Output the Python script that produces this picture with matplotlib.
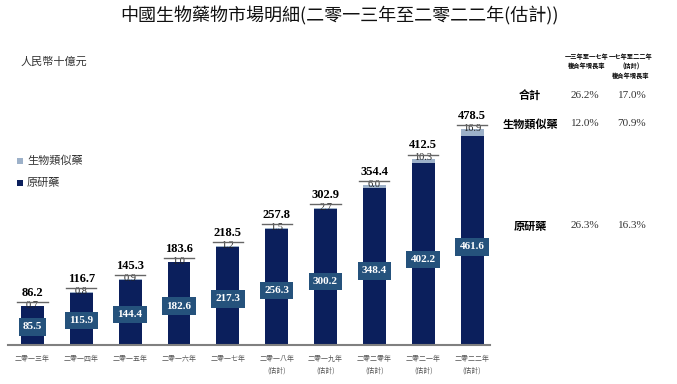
import matplotlib
matplotlib.use("Agg")
import matplotlib.pyplot as plt
from matplotlib.transforms import offset_copy
from matplotlib.patches import Rectangle

CJK = ['Noto Sans CJK TC', 'DejaVu Sans']
SERIF = ['Liberation Serif', 'DejaVu Serif']
plt.rcParams['font.family'] = CJK

# ---- data ----
years = ['二零一三年', '二零一四年', '二零一五年', '二零一六年', '二零一七年',
         '二零一八年\n(估計)', '二零一九年\n(估計)', '二零二零年\n(估計)',
         '二零二一年\n(估計)', '二零二二年\n(估計)']
originator = [85.5, 115.9, 144.4, 182.6, 217.3, 256.3, 300.2, 348.4, 402.2, 461.6]
biosimilar = [0.7, 0.8, 0.9, 1.0, 1.2, 1.5, 2.7, 6.0, 10.3, 16.9]
totals = [86.2, 116.7, 145.3, 183.6, 218.5, 257.8, 302.9, 354.4, 412.5, 478.5]

series_names = ['生物類似藥', '原研藥']
row_names = ['合計', '生物類似藥', '原研藥']
cagr_13_17 = ['26.2%', '12.0%', '26.3%']
cagr_17_22 = ['17.0%', '70.9%', '16.3%']
col_headers = ['一三年至一七年\n複合年增長率', '一七年至二二年\n(估計)\n複合年增長率']

title = '中國生物藥物市場明細(二零一三年至二零二二年(估計))'
unit = '人民幣十億元'

DARK = '#0b1f5c'
LIGHT = '#9db1c9'
BOX = '#25527c'

W, H = 677, 384
fig = plt.figure(figsize=(W / 100, H / 100), dpi=100)

ax_l, ax_r = 8, 490
base_px, top_px = 345, 100
ax = fig.add_axes([ax_l / W, (H - base_px) / H, (ax_r - ax_l) / W, (base_px - top_px) / H])
ax.set_xlim(-0.501, 9.368)
ax.set_ylim(0, (base_px - top_px) / 0.452)

x = list(range(len(years)))
bw = 0.47
ax.bar(x, originator, width=bw, color=DARK, zorder=2)
ax.bar(x, biosimilar, width=bw, bottom=originator, color=LIGHT, zorder=2)

for s in ['top', 'right', 'left']:
    ax.spines[s].set_visible(False)
ax.spines['bottom'].set_color('#808080')
ax.spines['bottom'].set_linewidth(1.5)
ax.set_yticks([])
ax.set_xticks(x)
ax.set_xticklabels(years, fontsize=5, color='#555555', linespacing=1.6, family=CJK)
ax.tick_params(axis='x', length=0, pad=7)

for i in x:
    t = totals[i]
    # small biosimilar label at bar top
    ax.annotate(f'{biosimilar[i]:.1f}', (i, t), xytext=(0, 0.5), textcoords='offset points',
                ha='center', va='center', fontsize=7.5, family=SERIF, color='#222222', zorder=4)
    # underline
    tr = offset_copy(ax.transData, fig=fig, x=0, y=4, units='dots')
    ax.plot([i - 0.31, i + 0.31], [t, t], transform=tr, color='#666666', lw=1.0,
            clip_on=False, zorder=4)
    # total label
    ax.annotate(f'{t:.1f}', (i, t), xytext=(0, 9.5), textcoords='offset points',
                ha='center', va='center', fontsize=9, fontweight='bold', family=SERIF,
                color='black', zorder=4)
    # originator label box
    ax.text(i, originator[i] * 0.47, f'{originator[i]:.1f}', ha='center', va='center',
            fontsize=8, fontweight='bold', family=SERIF, color='white', zorder=5,
            bbox=dict(boxstyle='square,pad=0.38', facecolor=BOX, edgecolor='none'))

# title & unit
fig.text(339 / W, 1 - 16 / H, title, ha='center', va='center', fontsize=13,
         fontweight='medium', color='#111111', family=CJK)
fig.text(21 / W, 1 - 62 / H, unit, ha='left', va='center', fontsize=8,
         color='#333333', family=CJK)

# legend
leg_y = [161, 183]
leg_c = [LIGHT, DARK]
for yy, c, name in zip(leg_y, leg_c, series_names):
    fig.patches.append(Rectangle((17 / W, 1 - (yy + 3) / H), 6 / W, 6 / H,
                                 transform=fig.transFigure, facecolor=c, edgecolor='none'))
    fig.text(27 / W, 1 - yy / H, name, ha='left', va='center', fontsize=8,
             color='#333333', family=CJK)

# CAGR table
col_x = [587, 631]
fig.text(col_x[0] / W, 1 - 53 / H, col_headers[0], ha='center', va='top', fontsize=4.5,
         fontweight='bold', linespacing=1.4, family=CJK)
fig.text(col_x[1] / W, 1 - 53 / H, col_headers[1], ha='center', va='top', fontsize=4.5,
         fontweight='bold', linespacing=1.4, family=CJK)
row_y = [95, 124, 226]
for yy, name, a, b in zip(row_y, row_names, cagr_13_17, cagr_17_22):
    fig.text(530 / W, 1 - yy / H, name, ha='center', va='center', fontsize=8,
             fontweight='bold', family=CJK)
    fig.text(585 / W, 1 - yy / H, a, ha='center', va='center', fontsize=8,
             family=SERIF, color='#333333')
    fig.text(632 / W, 1 - yy / H, b, ha='center', va='center', fontsize=8,
             family=SERIF, color='#333333')

fig.savefig('out.png', dpi=100)
